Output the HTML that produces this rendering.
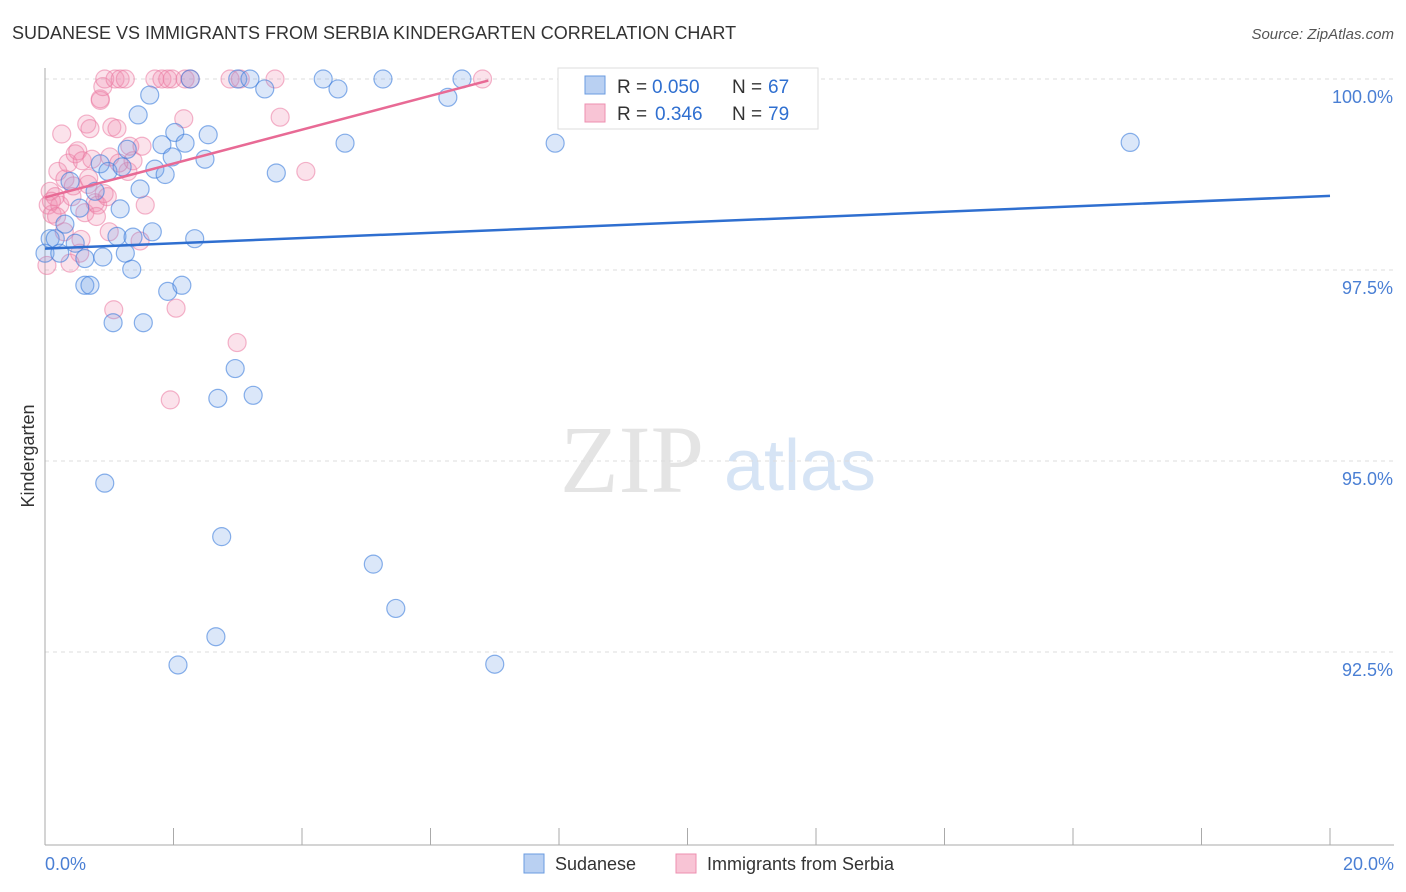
<!DOCTYPE html>
<html><head><meta charset="utf-8"><style>
body{margin:0;background:#fff;font-family:"Liberation Sans",sans-serif;}
svg{display:block}
</style></head><body>
<svg id="c" width="1406" height="892" xmlns="http://www.w3.org/2000/svg">
<text x="12" y="39" font-size="18" fill="#333">SUDANESE VS IMMIGRANTS FROM SERBIA KINDERGARTEN CORRELATION CHART</text>
<text x="1394" y="39" font-size="15" fill="#555" font-style="italic" text-anchor="end">Source: ZipAtlas.com</text>
<text x="632" y="492" font-size="96" fill="#e4e4e4" font-family="Liberation Serif,serif" text-anchor="middle">ZIP</text>
<text x="800" y="490" font-size="72" fill="#d6e4f5" text-anchor="middle">atlas</text>
<text transform="translate(34,456) rotate(-90)" font-size="18" fill="#333" text-anchor="middle">Kindergarten</text>
<g id="grid"></g><g id="pts"></g><g id="lines"></g>
<g>
<rect x="558" y="68" width="260" height="61" fill="#fff" stroke="#ddd"/>
<rect x="585" y="76" width="20" height="18" fill="#b9d0f2" stroke="#6a9be0"/>
<text x="617" y="93" font-size="19" fill="#333">R =</text>
<text x="652" y="93" font-size="19" fill="#2f6fd0">0.050</text>
<text x="732" y="93" font-size="19" fill="#333">N =</text>
<text x="768" y="93" font-size="19" fill="#2f6fd0">67</text>
<rect x="585" y="104" width="20" height="18" fill="#f8c4d5" stroke="#ee8fb0"/>
<text x="617" y="120" font-size="19" fill="#333">R =</text>
<text x="655" y="120" font-size="19" fill="#2f6fd0">0.346</text>
<text x="732" y="120" font-size="19" fill="#333">N =</text>
<text x="768" y="120" font-size="19" fill="#2f6fd0">79</text>
</g>
<g>
<rect x="524" y="854" width="20" height="19" fill="#b9d0f2" stroke="#6a9be0"/>
<text x="555" y="870" font-size="18" fill="#333">Sudanese</text>
<rect x="676" y="854" width="20" height="19" fill="#f8c4d5" stroke="#ee8fb0"/>
<text x="707" y="870" font-size="18" fill="#333">Immigrants from Serbia</text>
</g>
<text x="45" y="870" font-size="18" fill="#4a7fd4">0.0%</text>
<text x="1394" y="870" font-size="18" fill="#4a7fd4" text-anchor="end">20.0%</text>
</svg>
<script>
const yTicks=[100,97.5,95,92.5];
const yTickLabels=["100.0%","97.5%","95.0%","92.5%"];
const blueX=[0,0.08,0.16,0.23,0.31,0.39,0.47,0.54,0.62,0.62,0.7,0.78,0.86,0.9,0.93,0.98,1.06,1.12,1.17,1.2,1.25,1.28,1.35,1.37,1.45,1.48,1.53,1.63,1.67,1.71,1.82,1.87,1.91,1.98,2.02,2.07,2.13,2.18,2.26,2.33,2.49,2.54,2.69,2.75,2.66,2.96,3.0,3.19,3.24,3.42,3.6,4.33,4.56,4.67,5.11,5.26,5.46,6.27,6.49,7.0,7.94,8.45,10.12,16.89];
const blueY=[97.72,97.91,97.91,97.72,98.1,98.66,97.85,98.31,97.65,97.3,97.3,98.53,98.89,97.67,94.71,98.79,96.81,97.94,98.3,98.85,97.72,99.08,97.51,97.93,99.53,98.56,96.81,99.79,98.0,98.82,99.14,98.75,97.22,98.98,99.3,92.33,97.3,99.16,100,97.91,98.95,99.27,95.82,94.01,92.7,96.21,100,100,95.86,99.87,98.77,100,99.87,99.16,93.65,100,93.07,99.76,100,92.34,99.16,100,99.48,99.17];
const pinkX=[0.03,0.05,0.08,0.11,0.16,0.2,0.23,0.26,0.31,0.36,0.39,0.42,0.47,0.51,0.54,0.58,0.62,0.65,0.67,0.7,0.73,0.78,0.82,0.86,0.86,0.9,0.93,0.97,1.01,1.04,1.07,1.09,1.12,1.17,1.25,1.29,1.32,1.37,1.48,1.51,1.56,1.71,1.82,1.91,1.95,1.98,2.04,2.16,2.18,2.26,2.88,2.99,3.04,3.58,3.66,4.06,6.81,0.1,0.18,0.3,0.44,0.56,0.68,0.8,0.92,1.0,1.15];
const pinkY=[97.56,98.35,98.53,98.23,98.46,98.79,98.35,99.28,98.69,98.9,97.59,98.46,99.02,99.06,97.72,98.93,98.25,99.41,98.62,99.35,98.95,98.38,98.35,99.72,99.74,99.9,100,98.46,98.98,99.37,96.98,100,99.35,100,100,98.79,99.12,98.93,97.88,99.12,98.35,100,100,100,95.8,100,97.0,99.48,100,100,100,96.55,100,100,99.5,98.79,100,98.4,98.2,98.0,98.6,97.9,98.7,98.2,98.5,98.0,98.9];
const blueTrend=[[0,97.78],[20,98.47]];
const pinkTrend=[[0,98.45],[6.9,99.98]];
const X=v=>45+v/20*1285, Y=v=>79+(100-v)/2.5*191;
const NS="http://www.w3.org/2000/svg";
function mk(t,a,p){const e=document.createElementNS(NS,t);for(const k in a)e.setAttribute(k,a[k]);p.appendChild(e);return e;}
const g=document.getElementById('grid');
yTicks.forEach((t,i)=>{
 const l=mk('line',{x1:45,x2:1394,y1:Y(t),y2:Y(t),stroke:'#ddd','stroke-dasharray':'4,4'},g);
 
 
 const tx=mk('text',{x:1393,y:Y(t)+24,'font-size':18,fill:'#4a7fd4','text-anchor':'end'},g);
 tx.textContent=yTickLabels[i];
 
 
});
const ax=mk('line',{x1:45,x2:45,y1:68,y2:845,stroke:'#aaa'},g);


const bx=mk('line',{x1:45,x2:1394,y1:845,y2:845,stroke:'#aaa'},g);


for(let i=0;i<=10;i++){const t=mk('line',{x1:X(i*2),x2:X(i*2),y1:828,y2:845,stroke:'#aaa'},g);
 
 }
const p=document.getElementById('pts');
pinkX.forEach((x,i)=>{const c=mk('circle',{cx:X(x),cy:Y(pinkY[i]),r:9,fill:'rgba(240,140,175,0.25)',stroke:'rgba(235,120,160,0.55)','stroke-width':1.2},p);
 
 });
blueX.forEach((x,i)=>{const c=mk('circle',{cx:X(x),cy:Y(blueY[i]),r:9,fill:'rgba(110,160,230,0.25)',stroke:'rgba(60,125,220,0.6)','stroke-width':1.2},p);
 
 });
const L=document.getElementById('lines');
const bl=mk('line',{x1:X(blueTrend[0][0]),y1:Y(blueTrend[0][1]),x2:X(blueTrend[1][0]),y2:Y(blueTrend[1][1]),stroke:'#2f6fd0','stroke-width':2.5},L);


const pl=mk('line',{x1:X(pinkTrend[0][0]),y1:Y(pinkTrend[0][1]),x2:X(pinkTrend[1][0]),y2:Y(pinkTrend[1][1]),stroke:'#e86a95','stroke-width':2.5},L);


</script>
</body></html>
